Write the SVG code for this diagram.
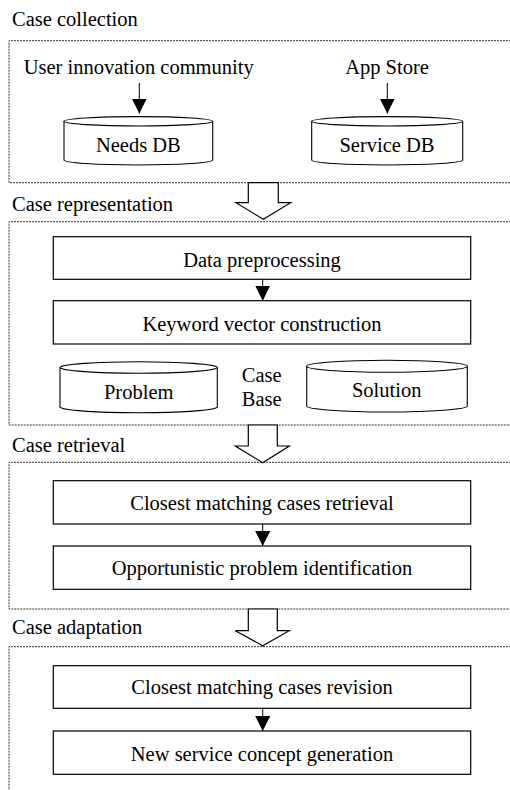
<svg xmlns="http://www.w3.org/2000/svg" width="510" height="790" viewBox="0 0 510 790" font-family="Liberation Serif, DejaVu Serif, serif">
<style>
text{font-family:'Liberation Serif','DejaVu Serif',serif;font-size:20.5px;fill:#000}
.c{text-anchor:middle}
.sec{fill:none;stroke:#333;stroke-width:1;stroke-dasharray:2,1}
.box{fill:#fff;stroke:#000;stroke-width:1.2}
.cyl{fill:#fff;stroke:#000;stroke-width:1.1}
.ln{stroke:#000;stroke-width:1;fill:none}
.blk{fill:#fff;stroke:#000;stroke-width:1.2}
</style>
<defs>
<marker id="ah" markerWidth="16" markerHeight="16" refX="15" refY="7.5" orient="auto" markerUnits="userSpaceOnUse">
<path d="M0,0 L15,7.5 L0,15 Z" fill="#000"/>
</marker>
</defs>
<rect width="510" height="790" fill="#fff"/>

<g id="sec-collection">
<text x="12" y="26">Case collection</text>
<path class="sec" d="M520,40.7 H9 V182.7 H520"/>
</g>
<g id="sec-representation">
<text x="12" y="210.7">Case representation</text>
<path class="sec" d="M520,221.7 H9 V425 H520"/>
</g>
<g id="sec-retrieval">
<text x="12" y="451.7">Case retrieval</text>
<path class="sec" d="M520,462.3 H9 V609 H520"/>
</g>
<g id="sec-adaptation">
<text x="12" y="634">Case adaptation</text>
<path class="sec" d="M520,646.7 H9 V800"/>
</g>

<g id="src-community"><text class="c" x="138.7" y="74">User innovation community</text></g>
<g id="src-appstore"><text class="c" x="387" y="74">App Store</text></g>

<g id="needs-db">
<path class="cyl" d="M64,121.3 V160 A74.3,5 0 0 0 212.7,160 V121.3 A74.3,4.7 0 0 0 64,121.3 Z"/>
<path class="cyl" d="M64,121.3 A74.3,4.7 0 0 0 212.7,121.3"/>
<text class="c" x="138.3" y="151.7">Needs DB</text>
</g>
<g id="service-db">
<path class="cyl" d="M311.7,121.3 V160 A75.5,5 0 0 0 462.7,160 V121.3 A75.5,4.7 0 0 0 311.7,121.3 Z"/>
<path class="cyl" d="M311.7,121.3 A75.5,4.7 0 0 0 462.7,121.3"/>
<text class="c" x="387" y="151.7">Service DB</text>
</g>

<g id="data-preprocessing">
<rect class="box" x="53.3" y="236.7" width="417.4" height="42.6"/>
<text class="c" x="262" y="267.3">Data preprocessing</text>
</g>
<g id="keyword-vector">
<rect class="box" x="53.3" y="300.7" width="417.4" height="43.3"/>
<text class="c" x="262" y="330.7">Keyword vector construction</text>
</g>
<g id="problem">
<path class="cyl" d="M60,367.5 V407 A78.7,6 0 0 0 217.3,407 V367.5 A78.7,6 0 0 0 60,367.5 Z"/>
<path class="cyl" d="M60,367.5 A78.7,6 0 0 0 217.3,367.5"/>
<text class="c" x="138.7" y="399">Problem</text>
</g>
<g id="case-base">
<text class="c" x="261.7" y="382.3">Case</text>
<text class="c" x="261.7" y="405.7">Base</text>
</g>
<g id="solution">
<path class="cyl" d="M306.7,366.3 V406 A80.3,6 0 0 0 467.3,406 V366.3 A80.3,6 0 0 0 306.7,366.3 Z"/>
<path class="cyl" d="M306.7,366.3 A80.3,6 0 0 0 467.3,366.3"/>
<text class="c" x="386.7" y="397.3">Solution</text>
</g>

<g id="closest-retrieval">
<rect class="box" x="53.3" y="480.7" width="417.4" height="43.3"/>
<text class="c" x="262" y="510">Closest matching cases retrieval</text>
</g>
<g id="opportunistic">
<rect class="box" x="53.3" y="546" width="417.4" height="43.3"/>
<text class="c" x="262" y="575">Opportunistic problem identification</text>
</g>

<g id="closest-revision">
<rect class="box" x="53.3" y="665.7" width="417.4" height="42.6"/>
<text class="c" x="262" y="694">Closest matching cases revision</text>
</g>
<g id="new-service">
<rect class="box" x="53.3" y="731" width="417.4" height="43.3"/>
<text class="c" x="262" y="760.7">New service concept generation</text>
</g>

<g id="connectors">
<line class="ln" x1="139.3" y1="83" x2="139.3" y2="113.5" marker-end="url(#ah)"/>
<line class="ln" x1="387.3" y1="83" x2="387.3" y2="113.5" marker-end="url(#ah)"/>
<line class="ln" x1="262.7" y1="279.3" x2="262.7" y2="300.7" marker-end="url(#ah)"/>
<line class="ln" x1="262.7" y1="524" x2="262.7" y2="546" marker-end="url(#ah)"/>
<line class="ln" x1="262.7" y1="708.3" x2="262.7" y2="731" marker-end="url(#ah)"/>
<path class="blk" d="M248.3,182.7 H278.3 V202.7 H290.7 L263.3,219.3 L236,202.7 H248.3 Z"/>
<path class="blk" d="M248.3,425 H277.3 V446 H289.3 L262.7,462.7 L235.3,446 H248.3 Z"/>
<path class="blk" d="M248.3,609 H277.3 V630.7 H289.3 L262.7,645.7 L235.3,630.7 H248.3 Z"/>
</g>
</svg>
